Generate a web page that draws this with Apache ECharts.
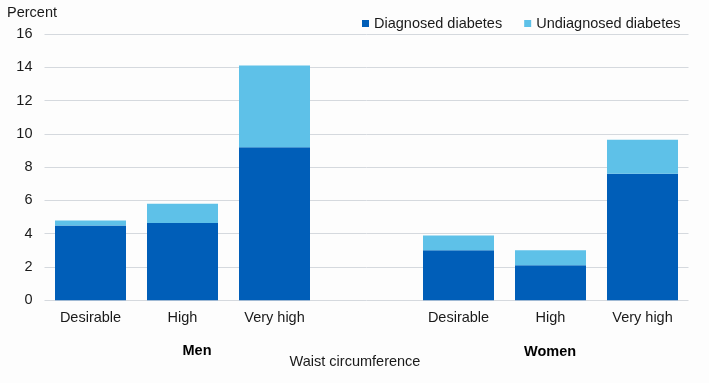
<!DOCTYPE html>
<html>
<head>
<meta charset="utf-8">
<script src="https://cdn.jsdelivr.net/npm/echarts@6/dist/echarts.min.js"></script>
<style>html,body{margin:0;padding:0;background:#fdfdfd;}#c{width:709px;height:383px;}</style>
</head>
<body>
<div id="c"></div>
<script>
var categories = ['Desirable', 'High', 'Very high', '', 'Desirable', 'High', 'Very high'];
var diagnosed = [4.5, 4.65, 9.2, null, 3.0, 2.1, 7.6];
var undiagnosed = [0.3, 1.15, 4.9, null, 0.9, 0.9, 2.05];
var seriesNames = ['Diagnosed diabetes', 'Undiagnosed diabetes'];
var groupLabels = ['Men', 'Women'];
var yTicks = [0, 2, 4, 6, 8, 10, 12, 14, 16];
var yTitle = 'Percent';
var xTitle = 'Waist circumference';

var FONT = 'Liberation Sans, Arial, sans-serif';
var chart = echarts.init(document.getElementById('c'));
chart.setOption({
  backgroundColor: '#fdfdfd',
  animation: false,
  textStyle: {fontFamily: FONT},
  grid: {left: 44.5, right: 20.5, top: 34, bottom: 82.7},
  legend: {
    left: 357, top: 11,
    itemWidth: 7, itemHeight: 7, itemGap: 22,
    icon: 'rect',
    textStyle: {fontFamily: FONT, fontSize: 14.5, color: '#1a1a1a'},
    data: seriesNames
  },
  xAxis: {
    type: 'category',
    data: categories,
    axisLine: {show: false},
    axisTick: {show: false},
    axisLabel: {fontFamily: FONT, fontSize: 14.5, color: '#1a1a1a', margin: 10, interval: 0}
  },
  yAxis: {
    type: 'value',
    min: yTicks[0], max: yTicks[yTicks.length - 1], interval: 2,
    axisLine: {show: false},
    axisTick: {show: false},
    axisLabel: {fontFamily: FONT, fontSize: 14.5, color: '#1a1a1a', margin: 12},
    splitLine: {lineStyle: {color: '#d5d9de', width: 1}}
  },
  graphic: [
    {type: 'text', left: 7, top: 5, style: {text: yTitle, font: '14.5px ' + FONT, fill: '#1a1a1a'}},
    {type: 'text', x: 197, y: 351, style: {text: groupLabels[0], font: 'bold 14.5px ' + FONT, fill: '#000', textAlign: 'center', textVerticalAlign: 'middle'}},
    {type: 'text', x: 550, y: 352, style: {text: groupLabels[1], font: 'bold 14.5px ' + FONT, fill: '#000', textAlign: 'center', textVerticalAlign: 'middle'}},
    {type: 'text', x: 355, y: 362, style: {text: xTitle, font: '14.5px ' + FONT, fill: '#1a1a1a', textAlign: 'center', textVerticalAlign: 'middle'}}
  ],
  series: [
    {name: seriesNames[0], type: 'bar', stack: 'a', data: diagnosed, barWidth: 71, itemStyle: {color: '#005eb8'}},
    {name: seriesNames[1], type: 'bar', stack: 'a', data: undiagnosed, barWidth: 71, itemStyle: {color: '#5ec1e8'}}
  ]
});
</script>
</body>
</html>
